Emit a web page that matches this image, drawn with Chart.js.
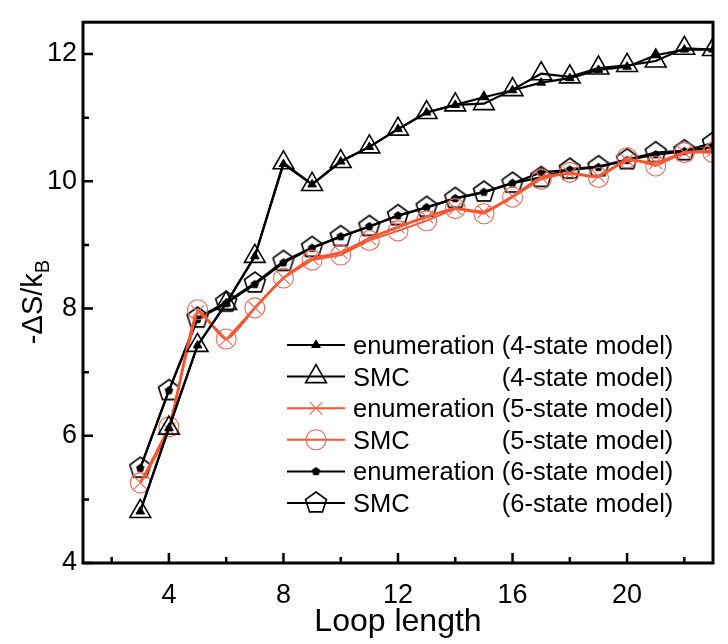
<!DOCTYPE html>
<html>
<head>
<meta charset="utf-8">
<script src="https://cdn.jsdelivr.net/npm/chart.js@4.4.1/dist/chart.umd.min.js"></script>
<style>
  html, body { margin: 0; padding: 0; background: #fff; }
  #wrap { width: 728px; height: 644px; }
</style>
</head>
<body>
<div id="wrap"><canvas id="chart" width="728" height="644"></canvas></div>
<script>
// loop lengths
const loopLength = [3, 4, 5, 6, 7, 8, 9, 10, 11, 12, 13, 14, 15, 16, 17, 18, 19, 20, 21, 22, 23];

// -dS/kB values
const enum4 = [4.81, 6.12, 7.42, 8.08, 8.82, 10.27, 9.95, 10.31, 10.54, 10.82, 11.08, 11.20, 11.32, 11.43, 11.55, 11.62, 11.75, 11.80, 11.98, 12.07, 12.07];
const smc4  = [4.81, 6.12, 7.42, 8.08, 8.82, 10.29, 9.95, 10.31, 10.54, 10.82, 11.08, 11.20, 11.22, 11.44, 11.69, 11.64, 11.78, 11.82, 11.89, 12.09, 12.07];
const enum5 = [5.26, 6.10, 7.95, 7.52, 8.01, 8.48, 8.78, 8.88, 9.10, 9.28, 9.44, 9.57, 9.52, 9.76, 10.06, 10.12, 10.08, 10.33, 10.29, 10.45, 10.48];
const smc5  = [5.26, 6.14, 7.98, 7.52, 8.01, 8.48, 8.76, 8.84, 9.07, 9.22, 9.38, 9.57, 9.49, 9.75, 10.03, 10.14, 10.06, 10.37, 10.24, 10.45, 10.45];
const enum6 = [5.49, 6.71, 7.83, 8.08, 8.38, 8.72, 8.95, 9.13, 9.29, 9.46, 9.59, 9.73, 9.83, 9.97, 10.14, 10.18, 10.22, 10.33, 10.42, 10.47, 10.54];
const smc6  = [5.49, 6.71, 7.85, 8.10, 8.40, 8.74, 8.96, 9.13, 9.29, 9.46, 9.59, 9.73, 9.83, 9.97, 10.06, 10.19, 10.23, 10.34, 10.45, 10.48, 10.60];

// axis ticks
const xTicks = [4, 8, 12, 16, 20];
const xMinorTicks = [2, 6, 10, 14, 18, 22];
const yTicks = [4, 6, 8, 10, 12];
const yMinorTicks = [5, 7, 9, 11];

// legend text
const legendNames = ['enumeration', 'SMC', 'enumeration', 'SMC', 'enumeration', 'SMC'];
const legendModels = ['(4-state model)', '(4-state model)', '(5-state model)', '(5-state model)', '(6-state model)', '(6-state model)'];

const FONT = "'Liberation Sans', Arial, sans-serif";
const RED = '#f7552e';
const RED_MARK = '#ef6a5a';

// pentagon markers aren't built into Chart.js, so draw them on small canvases
function makePentagon(r, filled, lw) {
    const size = Math.ceil(2 * (r + lw)) + 2;
    const c = document.createElement('canvas');
    c.width = size;
    c.height = size;
    const g = c.getContext('2d');
    g.beginPath();
    for (let i = 0; i < 5; i++) {
        const a = -Math.PI / 2 + i * 2 * Math.PI / 5;
        const px = size / 2 + r * Math.cos(a);
        const py = size / 2 + r * Math.sin(a);
        if (i === 0) g.moveTo(px, py); else g.lineTo(px, py);
    }
    g.closePath();
    if (filled) {
        g.fillStyle = '#000';
        g.fill();
    } else {
        g.strokeStyle = '#000';
        g.lineWidth = lw;
        g.stroke();
    }
    return c;
}
const pentOpen = makePentagon(11, false, 1.6);
const pentFilled = makePentagon(4.5, true, 0);

const pts = arr => arr.map((v, i) => ({ x: loopLength[i], y: v }));

const datasets = [
    {
        label: 'enumeration (4-state model)',
        data: pts(enum4),
        borderColor: '#000', borderWidth: 2.2,
        pointStyle: 'triangle', pointRadius: 5,
        pointBackgroundColor: '#000', pointBorderColor: '#000', pointBorderWidth: 1
    },
    {
        label: 'SMC (4-state model)',
        data: pts(smc4),
        borderColor: '#000', borderWidth: 2.2,
        pointStyle: 'triangle', pointRadius: 12,
        pointBackgroundColor: 'rgba(0,0,0,0)', pointBorderColor: '#000', pointBorderWidth: 1.6
    },
    {
        label: 'enumeration (5-state model)',
        data: pts(enum5),
        borderColor: RED, borderWidth: 2.8, tension: 0.2,
        pointStyle: 'crossRot', pointRadius: 9,
        pointBackgroundColor: 'rgba(0,0,0,0)', pointBorderColor: RED_MARK, pointBorderWidth: 1.1
    },
    {
        label: 'SMC (5-state model)',
        data: pts(smc5),
        borderColor: RED, borderWidth: 1.8,
        pointStyle: 'circle', pointRadius: 10,
        pointBackgroundColor: 'rgba(0,0,0,0)', pointBorderColor: RED_MARK, pointBorderWidth: 1.1
    },
    {
        label: 'enumeration (6-state model)',
        data: pts(enum6),
        borderColor: '#000', borderWidth: 2.2,
        pointStyle: pentFilled, pointRadius: 5,
        pointBackgroundColor: '#000', pointBorderColor: '#000'
    },
    {
        label: 'SMC (6-state model)',
        data: pts(smc6),
        borderColor: '#000', borderWidth: 2.2,
        pointStyle: pentOpen, pointRadius: 11,
        pointBackgroundColor: 'rgba(0,0,0,0)', pointBorderColor: '#000'
    }
];

// frame with inward major and minor ticks
const framePlugin = {
    id: 'frame',
    afterDatasetsDraw(chart) {
        const { ctx, chartArea: a, scales: { x, y } } = chart;
        ctx.save();
        ctx.strokeStyle = '#000';
        ctx.lineWidth = 2.5;
        ctx.beginPath();
        xTicks.forEach(v => { const px = x.getPixelForValue(v); ctx.moveTo(px, a.bottom); ctx.lineTo(px, a.bottom - 10); });
        xMinorTicks.forEach(v => { const px = x.getPixelForValue(v); ctx.moveTo(px, a.bottom); ctx.lineTo(px, a.bottom - 6); });
        yTicks.forEach(v => { const py = y.getPixelForValue(v); ctx.moveTo(a.left, py); ctx.lineTo(a.left + 10, py); });
        yMinorTicks.forEach(v => { const py = y.getPixelForValue(v); ctx.moveTo(a.left, py); ctx.lineTo(a.left + 6, py); });
        ctx.stroke();
        ctx.lineWidth = 3;
        ctx.strokeRect(a.left, a.top, a.right - a.left, a.bottom - a.top);
        ctx.restore();
    }
};

// y title with subscript B, and the legend block inside the plot
const textPlugin = {
    id: 'texts',
    afterDraw(chart) {
        const ctx = chart.ctx;
        ctx.save();
        ctx.fillStyle = '#000';

        // y axis title
        ctx.translate(34, 302);
        ctx.rotate(-Math.PI / 2);
        ctx.font = '29px ' + FONT;
        ctx.textBaseline = 'middle';
        const main = '-\u0394S/k';
        const wMain = ctx.measureText(main).width;
        ctx.font = '20px ' + FONT;
        const wSub = ctx.measureText('B').width;
        const x0 = -(wMain + wSub) / 2;
        ctx.font = '29px ' + FONT;
        ctx.textAlign = 'left';
        ctx.fillText(main, x0, 0);
        ctx.font = '20px ' + FONT;
        ctx.fillText('B', x0 + wMain, 9);
        ctx.setTransform(1, 0, 0, 1, 0, 0);

        // legend
        const rowY = 345, rowGap = 31.6;
        const lineX0 = 287, lineX1 = 345, markX = 316, textX = 353;
        ctx.font = '25.5px ' + FONT;
        const modelX = textX + ctx.measureText('enumeration ').width;
        datasets.forEach((ds, i) => {
            const yy = rowY + i * rowGap;
            ctx.strokeStyle = ds.borderColor;
            ctx.lineWidth = 2;
            ctx.beginPath();
            ctx.moveTo(lineX0, yy);
            ctx.lineTo(lineX1, yy);
            ctx.stroke();
            ctx.fillStyle = ds.pointBackgroundColor;
            ctx.strokeStyle = ds.pointBorderColor;
            ctx.lineWidth = ds.pointBorderWidth || 1;
            Chart.helpers.drawPoint(ctx, {
                pointStyle: ds.pointStyle,
                radius: ds.pointRadius,
                rotation: 0,
                borderWidth: ds.pointBorderWidth || 1
            }, markX, yy);
            ctx.fillStyle = '#000';
            ctx.font = '25.5px ' + FONT;
            ctx.textAlign = 'left';
            ctx.textBaseline = 'middle';
            ctx.fillText(legendNames[i], textX, yy + 2);
            ctx.fillText(legendModels[i], modelX, yy + 2);
        });
        ctx.restore();
    }
};

new Chart(document.getElementById('chart'), {
    type: 'line',
    data: { datasets: datasets },
    options: {
        responsive: false,
        animation: false,
        events: [],
        layout: { padding: { top: 16, right: 15, left: 0, bottom: 0 } },
        plugins: { legend: { display: false }, tooltip: { enabled: false } },
        scales: {
            x: {
                type: 'linear',
                min: 1,
                max: 23,
                grid: { display: false, drawTicks: false },
                border: { display: false },
                ticks: { color: '#000', font: { family: FONT, size: 27 }, padding: 16, maxRotation: 0 },
                afterBuildTicks: s => { s.ticks = xTicks.map(v => ({ value: v })); },
                afterFit: s => { s.height = 81; },
                title: { display: true, text: 'Loop length', color: '#000', font: { family: FONT, size: 32 }, padding: { top: 0, bottom: 3 } }
            },
            y: {
                type: 'linear',
                min: 4,
                max: 12.5,
                grid: { display: false, drawTicks: false },
                border: { display: false },
                ticks: { color: '#000', font: { family: FONT, size: 27 }, padding: 6 },
                afterBuildTicks: s => { s.ticks = yTicks.map(v => ({ value: v })); },
                afterFit: s => { s.width = 83; }
            }
        }
    },
    plugins: [framePlugin, textPlugin]
});
</script>
</body>
</html>
